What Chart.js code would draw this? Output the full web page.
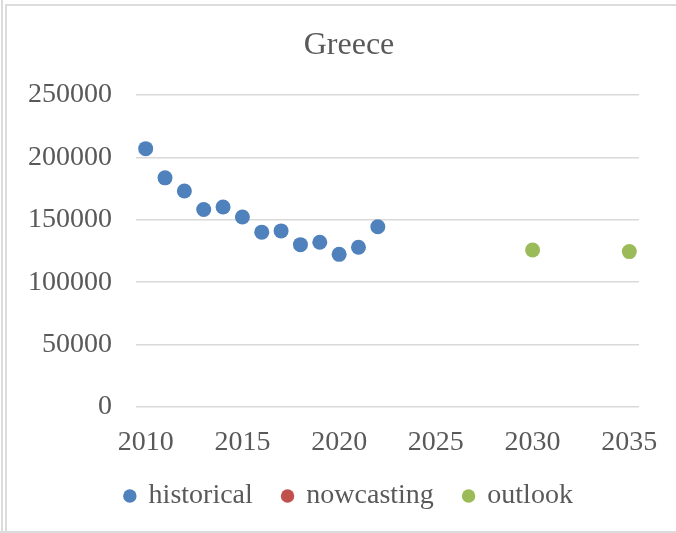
<!DOCTYPE html>
<html>
<head>
<meta charset="utf-8">
<script src="https://cdn.jsdelivr.net/npm/chart.js@4.4.0/dist/chart.umd.min.js"></script>
<style>
  html, body { margin: 0; padding: 0; background: #fff; }
  #wrap { position: relative; width: 676px; height: 533px; overflow: hidden; }
  #wrap canvas { position: absolute; left: 0; top: 0; }
  .ln { position: absolute; background: #dcdcdc; }
</style>
</head>
<body>
<div id="wrap">
  <div class="ln" style="left:1px;top:0;width:2px;height:533px"></div>
  <div class="ln" style="left:5px;top:4px;width:2px;height:529px"></div>
  <div class="ln" style="left:5px;top:4px;width:671px;height:2px"></div>
  <div class="ln" style="left:0;top:531px;width:676px;height:2px"></div>
  <canvas id="greece" width="676" height="533"></canvas>
</div>
<script>
// values
var histYears = [2010, 2011, 2012, 2013, 2014, 2015, 2016, 2017, 2018, 2019, 2020, 2021, 2022];
var historical = [207000, 183600, 173100, 158300, 160200, 152200, 140100, 141100, 130100, 132000, 122300, 128000, 144400];
var nowYears = [];
var nowcasting = [];
var outlookYears = [2030, 2035];
var outlook = [125800, 124500];
var xTicks = [2010, 2015, 2020, 2025, 2030, 2035];
var yMax = 250000;
var yStep = 50000;

function pts(xs, ys) {
  return xs.map(function (x, i) { return { x: x, y: ys[i] }; });
}

var txt = "#595959";
var serif = "'Liberation Serif', 'DejaVu Serif', serif";

var ctx = document.getElementById("greece").getContext("2d");
var grafico = new Chart(ctx, {
  type: "scatter",
  data: {
    datasets: [
      { label: "historical", data: pts(histYears, historical), backgroundColor: "#4f81bd", borderColor: "#4f81bd" },
      { label: "nowcasting", data: pts(nowYears, nowcasting), backgroundColor: "#c0504d", borderColor: "#c0504d" },
      { label: "outlook", data: pts(outlookYears, outlook), backgroundColor: "#9bbb59", borderColor: "#9bbb59" }
    ]
  },
  options: {
    responsive: false,
    animation: false,
    layout: { padding: { top: 0, left: 22, right: 0, bottom: 13 } },
    elements: { point: { radius: 7.5, hoverRadius: 7.5, borderWidth: 0 } },
    scales: {
      x: {
        type: "linear",
        min: 2009.5,
        max: 2035.5,
        afterBuildTicks: function (scale) {
          scale.ticks = xTicks.map(function (v) { return { value: v }; });
        },
        afterFit: function (scale) { scale.height = 45; },
        grid: { display: false },
        border: { display: false },
        ticks: {
          color: txt,
          font: { family: serif, size: 28 },
          padding: 11,
          maxRotation: 0,
          callback: function (v) { return String(v); }
        }
      },
      y: {
        min: 0,
        max: yMax,
        afterFit: function (scale) { scale.width = 114; },
        ticks: {
          stepSize: yStep,
          color: txt,
          font: { family: serif, size: 28 },
          padding: 24,
          callback: function (v) { return String(v); }
        },
        grid: { color: "#d9d9d9", lineWidth: 1.5, drawTicks: false },
        border: { display: false }
      },
      // empty right margin so title and legend centre on the whole chart
      yRight: {
        position: "right",
        afterFit: function (scale) { scale.width = 37; },
        ticks: { display: false },
        grid: { display: false },
        border: { display: false }
      }
    },
    plugins: {
      tooltip: { enabled: false },
      title: {
        display: true,
        text: "Greece",
        color: txt,
        font: { family: serif, size: 32, weight: "normal" },
        padding: { top: 26, bottom: 30.6 }
      },
      legend: {
        position: "bottom",
        labels: {
          color: txt,
          font: { family: serif, size: 28 },
          usePointStyle: true,
          pointStyle: "circle",
          boxWidth: 9.5,
          boxHeight: 9.5,
          padding: 30
        }
      }
    }
  }
});
</script>
</body>
</html>
